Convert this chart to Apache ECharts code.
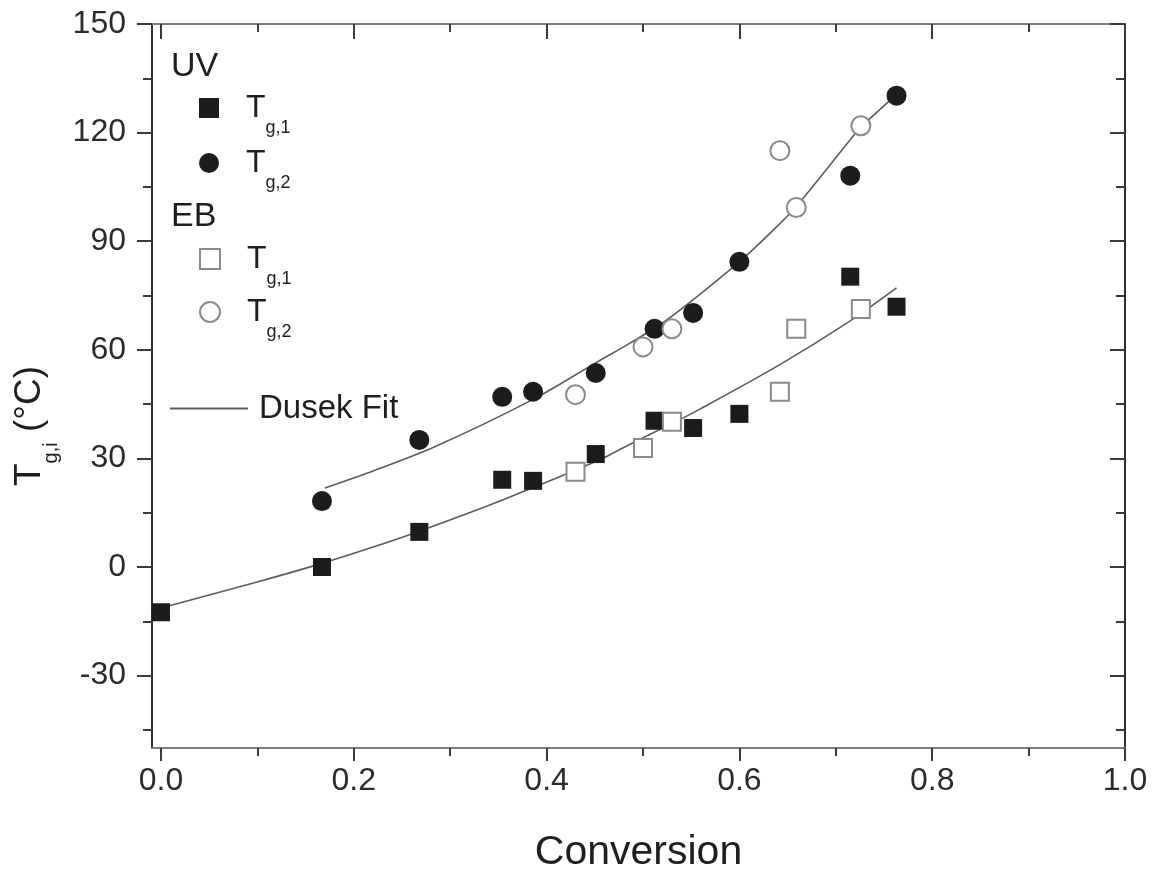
<!DOCTYPE html>
<html>
<head>
<meta charset="utf-8">
<script src="https://cdn.jsdelivr.net/npm/echarts@6/dist/echarts.min.js"></script>
<style>
  html, body { margin: 0; padding: 0; background: #ffffff; }
  #chart { width: 1157px; height: 869px; }
</style>
</head>
<body>
<div id="chart"></div>
<script>
// Glass transition temperatures against conversion, UV and EB cured samples
const uvConversion1 = [0.000, 0.167, 0.268, 0.354, 0.386, 0.451, 0.512, 0.552, 0.600, 0.715, 0.763];
const uvTg1 = [-12.5, 0.0, 9.7, 24.1, 23.8, 31.2, 40.4, 38.4, 42.3, 80.2, 71.9];

const uvConversion2 = [0.167, 0.268, 0.354, 0.386, 0.451, 0.512, 0.552, 0.600, 0.715, 0.763];
const uvTg2 = [18.2, 35.1, 47.0, 48.4, 53.6, 65.8, 70.2, 84.3, 108.1, 130.2];

const ebConversion = [0.430, 0.500, 0.530, 0.642, 0.659, 0.726];
const ebTg1 = [26.3, 32.9, 40.1, 48.4, 65.8, 71.3];
const ebTg2 = [47.6, 60.8, 65.8, 115.0, 99.3, 121.9];

// Dusek fit curves
const fitLowerX = [0.000, 0.095, 0.167, 0.220, 0.268, 0.355, 0.455, 0.487, 0.530, 0.559, 0.642, 0.715, 0.763];
const fitLowerY = [-11.3, -4.5, 1.0, 5.5, 9.9, 18.6, 29.6, 34.0, 39.6, 43.6, 55.9, 68.0, 77.1];
const fitUpperX = [0.170, 0.220, 0.284, 0.386, 0.451, 0.487, 0.525, 0.600, 0.633, 0.659, 0.715, 0.726, 0.763];
const fitUpperY = [21.8, 26.5, 33.2, 46.3, 56.4, 61.9, 68.3, 84.3, 92.5, 99.6, 118.0, 121.5, 130.5];

// Axis ticks
const xMajorTicks = [0, 0.2, 0.4, 0.6, 0.8, 1.0];
const xMinorTicks = [0.1, 0.3, 0.5, 0.7, 0.9];
const yMajorTicks = [-30, 0, 30, 60, 90, 120, 150];
const yMinorTicks = [-45, -15, 15, 45, 75, 105, 135];

const X_MIN = -0.0093, X_MAX = 1.0;
const Y_MIN = -50, Y_MAX = 150;

const FONT = "'Liberation Sans', Arial, Helvetica, sans-serif";
const pairs = (xs, ys) => xs.map((x, i) => [x, ys[i]]);

const frameH = '#7a7a7a';
const frameV = '#2e2e2e';
const tickColor = '#3a3a3a';
const fitColor = '#5c5c5c';

function xAxisDef(position, ticks, len, inside, showLine, labels) {
  return {
    type: 'value', position, min: X_MIN, max: X_MAX,
    axisLine: { show: showLine, onZero: false, lineStyle: { color: frameH, width: 2 } },
    axisTick: { show: true, customValues: ticks, length: len, inside, lineStyle: { color: tickColor, width: 2 } },
    axisLabel: labels ? {
      show: true, customValues: ticks, margin: 17,
      formatter: v => v.toFixed(1),
      fontFamily: FONT, fontSize: 32, color: '#2b2b2b'
    } : { show: false },
    splitLine: { show: false }
  };
}

function yAxisDef(position, ticks, len, inside, showLine, labels) {
  return {
    type: 'value', position, min: Y_MIN, max: Y_MAX,
    axisLine: { show: showLine, onZero: false, lineStyle: { color: frameV, width: 2 } },
    axisTick: { show: true, customValues: ticks, length: len, inside, lineStyle: { color: tickColor, width: 2 } },
    axisLabel: labels ? {
      show: true, customValues: ticks, margin: 26,
      fontFamily: FONT, fontSize: 32, color: '#2b2b2b'
    } : { show: false },
    splitLine: { show: false }
  };
}

const xBottom = xAxisDef('bottom', xMajorTicks, 13, false, true, true);
xBottom.name = 'Conversion';
xBottom.nameLocation = 'middle';
xBottom.nameGap = 84;
xBottom.nameTextStyle = { fontFamily: FONT, fontSize: 41, color: '#1e1e1e' };

const yLeft = yAxisDef('left', yMajorTicks, 15, false, true, true);
yLeft.name = '{t|T}{s|g,i}{t| (°C)}';
yLeft.nameLocation = 'middle';
yLeft.nameRotate = 90;
yLeft.nameGap = 88;
yLeft.nameTextStyle = {
  fontFamily: FONT, color: '#1e1e1e', padding: [0, 80, 0, 0],
  rich: {
    t: { fontFamily: FONT, fontSize: 37, color: '#1e1e1e' },
    s: { fontFamily: FONT, fontSize: 20, color: '#1e1e1e', padding: [44, 0, 0, 0] }
  }
};

const legendRich = {
  t: { fontFamily: FONT, fontSize: 32, color: '#1e1e1e', padding: [0, 0, 0, 22] },
  s: { fontFamily: FONT, fontSize: 18, color: '#1e1e1e', padding: [40, 0, 0, 0] }
};
const legendLabel = {
  'UV Tg,1': '{t|T}{s|g,1}',
  'UV Tg,2': '{t|T}{s|g,2}',
  'EB Tg,1': '{t|T}{s|g,1}',
  'EB Tg,2': '{t|T}{s|g,2}'
};

function symbolLegend(name, top) {
  return {
    data: [name], left: 199, top, orient: 'vertical', padding: 0,
    itemWidth: 20, itemHeight: 20, selectedMode: false,
    formatter: n => legendLabel[n],
    textStyle: { rich: legendRich }
  };
}

const option = {
  backgroundColor: '#ffffff',
  animation: false,
  grid: { left: 152, right: 32, top: 24, bottom: 121, containLabel: false, outerBoundsMode: 'none' },
  xAxis: [
    xBottom,
    xAxisDef('bottom', xMinorTicks, 8, false, false, false),
    xAxisDef('top', xMajorTicks, 15, true, true, false),
    xAxisDef('top', xMinorTicks, 8, true, false, false)
  ],
  yAxis: [
    yLeft,
    yAxisDef('left', yMinorTicks, 9, false, false, false),
    yAxisDef('right', yMajorTicks, 15, true, true, false),
    yAxisDef('right', yMinorTicks, 9, true, false, false)
  ],
  legend: [
    symbolLegend('UV Tg,1', 92),
    symbolLegend('UV Tg,2', 147),
    symbolLegend('EB Tg,1', 243),
    symbolLegend('EB Tg,2', 296),
    {
      data: [{ name: 'Dusek Fit', icon: 'rect' }], left: 170, top: 392, padding: 0,
      itemWidth: 78, itemHeight: 2, selectedMode: false,
      textStyle: { fontFamily: FONT, fontSize: 33, color: '#1e1e1e', padding: [0, 0, 0, 6] }
    }
  ],
  graphic: [
    { type: 'text', left: 171, top: 50, style: { text: 'UV', font: '34px ' + FONT, fill: '#1e1e1e' } },
    { type: 'text', left: 171, top: 200, style: { text: 'EB', font: '34px ' + FONT, fill: '#1e1e1e' } }
  ],
  series: [
    {
      name: 'Dusek Fit', type: 'line', data: pairs(fitLowerX, fitLowerY),
      symbol: 'none', smooth: 0.3, z: 1,
      lineStyle: { color: fitColor, width: 1.6 }, itemStyle: { color: fitColor }
    },
    {
      name: 'Dusek Fit', type: 'line', data: pairs(fitUpperX, fitUpperY),
      symbol: 'none', smooth: 0.3, z: 1,
      lineStyle: { color: fitColor, width: 1.6 }, itemStyle: { color: fitColor }
    },
    {
      name: 'UV Tg,1', type: 'scatter', data: pairs(uvConversion1, uvTg1),
      symbol: 'rect', symbolSize: 18, z: 3,
      itemStyle: { color: '#1c1c1c', opacity: 1 }
    },
    {
      name: 'UV Tg,2', type: 'scatter', data: pairs(uvConversion2, uvTg2),
      symbol: 'circle', symbolSize: 20, z: 3,
      itemStyle: { color: '#1c1c1c', opacity: 1 }
    },
    {
      name: 'EB Tg,1', type: 'scatter', data: pairs(ebConversion, ebTg1),
      symbol: 'rect', symbolSize: 18, z: 4,
      itemStyle: { color: '#ffffff', borderColor: '#8a8a8a', borderWidth: 2, opacity: 1 }
    },
    {
      name: 'EB Tg,2', type: 'scatter', data: pairs(ebConversion, ebTg2),
      symbol: 'circle', symbolSize: 19, z: 4,
      itemStyle: { color: '#ffffff', borderColor: '#8a8a8a', borderWidth: 2, opacity: 1 }
    }
  ]
};

const chart = echarts.init(document.getElementById('chart'), null, { renderer: 'canvas' });
chart.setOption(option);
</script>
</body>
</html>
